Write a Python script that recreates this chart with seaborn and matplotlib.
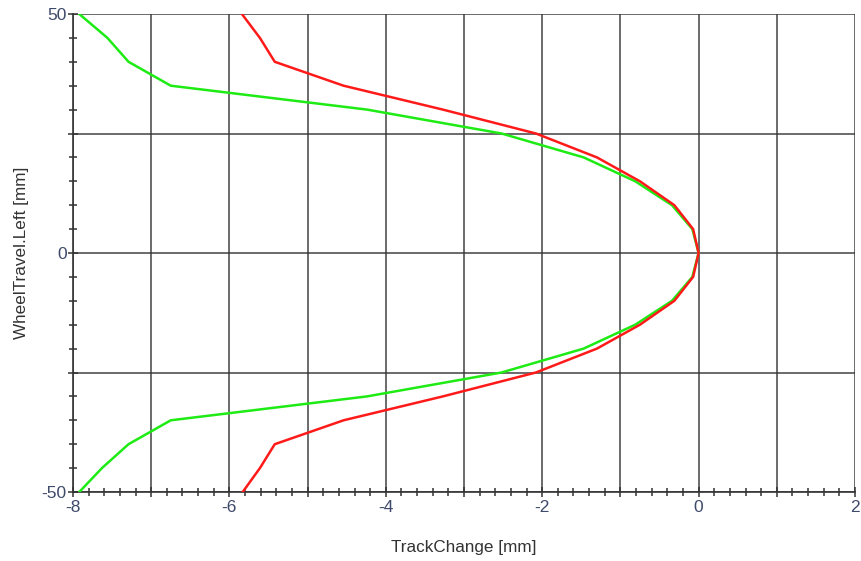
import numpy as np
import pandas as pd
import matplotlib
matplotlib.use("Agg")
import matplotlib.pyplot as plt
import seaborn as sns
from matplotlib.ticker import MultipleLocator, FuncFormatter

# Data
wheel_travel = [50, 45, 40, 35, 30, 25, 20, 15, 10, 5, 0,
                -5, -10, -15, -20, -25, -30, -35, -40, -45, -50]
track_red = [-5.84, -5.61, -5.42, -4.54, -3.27, -2.08, -1.30, -0.75, -0.31, -0.07, 0.0,
             -0.07, -0.31, -0.75, -1.30, -2.08, -3.27, -4.54, -5.42, -5.61, -5.83]
track_green = [-7.92, -7.56, -7.29, -6.75, -4.24, -2.52, -1.47, -0.81, -0.34, -0.08, 0.0,
               -0.08, -0.34, -0.81, -1.47, -2.52, -4.24, -6.75, -7.29, -7.63, -7.92]

x_ticks_labeled = [-8, -6, -4, -2, 0, 2]
y_ticks_labeled = [-50, 0, 50]

sns.set_theme(style="white")
plt.rcParams['font.family'] = ['Liberation Sans', 'DejaVu Sans']

df = pd.DataFrame({"y": wheel_travel * 2,
                   "x": track_red + track_green,
                   "s": ["red"] * len(track_red) + ["green"] * len(track_green)})

fig = plt.figure(figsize=(8.61, 5.61), dpi=100)
ax = fig.add_axes([73/861, 1 - 492/561, (855-73)/861, (492-14)/561])

for name, col in [("green", "#1eeb14"), ("red", "#ff1a1a")]:
    sub = df[df.s == name]
    sns.lineplot(data=sub, x="x", y="y", sort=False, estimator=None, ax=ax,
                 color=col, lw=1.8, zorder=3)

ax.set_xlim(-8, 2)
ax.set_ylim(-50, 50)
ax.xaxis.set_major_locator(MultipleLocator(1))
ax.xaxis.set_minor_locator(MultipleLocator(0.2))
ax.yaxis.set_major_locator(MultipleLocator(25))
ax.yaxis.set_minor_locator(MultipleLocator(5))
ax.xaxis.set_major_formatter(FuncFormatter(
    lambda v, p: f"{v:.0f}" if round(v) in x_ticks_labeled else ""))
ax.yaxis.set_major_formatter(FuncFormatter(
    lambda v, p: f"{v:.0f}" if round(v) in y_ticks_labeled else ""))

ax.grid(True, which="major", color="#333333", lw=1.2, alpha=0.85)
for s in ["top", "right"]:
    ax.spines[s].set_visible(False)
for s in ["left", "bottom"]:
    ax.spines[s].set_color("#333333")
    ax.spines[s].set_linewidth(1.2)

tick_col = "#3e4a6a"
ax.tick_params(axis="both", which="both", bottom=True, left=True, top=False, right=False)
ax.tick_params(axis="both", which="major", direction="inout", length=7, width=1.1,
               color="#333333", labelsize=12.5, labelcolor=tick_col, pad=1)
ax.tick_params(axis="both", which="minor", direction="inout", length=6, width=1.1,
               color="#333333")
ax.tick_params(axis="x", which="major", pad=2)

ax.set_xlabel("TrackChange [mm]", fontsize=12.3, color="#333333", labelpad=18)
ax.set_ylabel("WheelTravel.Left [mm]", fontsize=12.3, color="#333333", labelpad=9)

fig.savefig("out.png", dpi=100)
